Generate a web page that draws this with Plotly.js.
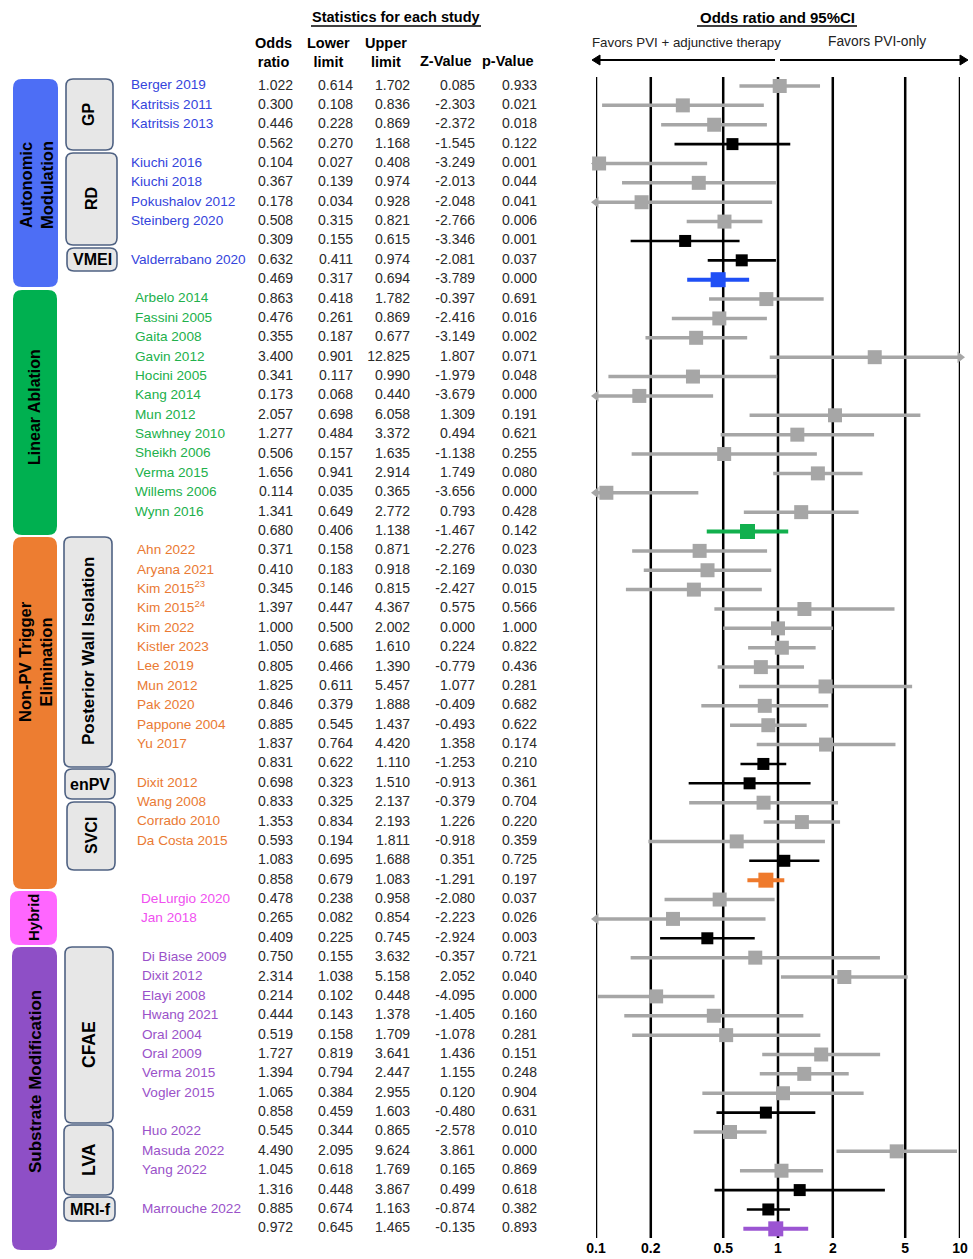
<!DOCTYPE html>
<html><head><meta charset="utf-8">
<script src="https://cdn.plot.ly/plotly-3.0.1.min.js"></script>
<style>html,body{margin:0;padding:0;background:#fff}#chart{width:973px;height:1259px}</style>
</head><body><div id="chart"></div>
<script>
// ---------------- DATA ----------------
const studyNames = ['Berger 2019','Katritsis 2011','Katritsis 2013','','Kiuchi 2016','Kiuchi 2018','Pokushalov 2012','Steinberg 2020','','Valderrabano 2020','',
 'Arbelo 2014','Fassini 2005','Gaita 2008','Gavin 2012','Hocini 2005','Kang 2014','Mun 2012','Sawhney 2010','Sheikh 2006','Verma 2015','Willems 2006','Wynn 2016','',
 'Ahn 2022','Aryana 2021','Kim 2015<sup>23</sup>','Kim 2015<sup>24</sup>','Kim 2022','Kistler 2023','Lee 2019','Mun 2012','Pak 2020','Pappone 2004','Yu 2017','','Dixit 2012','Wang 2008','Corrado 2010','Da Costa 2015','','',
 'DeLurgio 2020','Jan 2018','',
 'Di Biase 2009','Dixit 2012','Elayi 2008','Hwang 2021','Oral 2004','Oral 2009','Verma 2015','Vogler 2015','','Huo 2022','Masuda 2022','Yang 2022','','Marrouche 2022',''];
const oddsRatio = [1.022,0.300,0.446,0.562,0.104,0.367,0.178,0.508,0.309,0.632,0.469,
 0.863,0.476,0.355,3.400,0.341,0.173,2.057,1.277,0.506,1.656,0.114,1.341,0.680,
 0.371,0.410,0.345,1.397,1.000,1.050,0.805,1.825,0.846,0.885,1.837,0.831,0.698,0.833,1.353,0.593,1.083,0.858,
 0.478,0.265,0.409,
 0.750,2.314,0.214,0.444,0.519,1.727,1.394,1.065,0.858,0.545,4.490,1.045,1.316,0.885,0.972];
const lowerLimit = [0.614,0.108,0.228,0.270,0.027,0.139,0.034,0.315,0.155,0.411,0.317,
 0.418,0.261,0.187,0.901,0.117,0.068,0.698,0.484,0.157,0.941,0.035,0.649,0.406,
 0.158,0.183,0.146,0.447,0.500,0.685,0.466,0.611,0.379,0.545,0.764,0.622,0.323,0.325,0.834,0.194,0.695,0.679,
 0.238,0.082,0.225,
 0.155,1.038,0.102,0.143,0.158,0.819,0.794,0.384,0.459,0.344,2.095,0.618,0.448,0.674,0.645];
const upperLimit = [1.702,0.836,0.869,1.168,0.408,0.974,0.928,0.821,0.615,0.974,0.694,
 1.782,0.869,0.677,12.825,0.990,0.440,6.058,3.372,1.635,2.914,0.365,2.772,1.138,
 0.871,0.918,0.815,4.367,2.002,1.610,1.390,5.457,1.888,1.437,4.420,1.110,1.510,2.137,2.193,1.811,1.688,1.083,
 0.958,0.854,0.745,
 3.632,5.158,0.448,1.378,1.709,3.641,2.447,2.955,1.603,0.865,9.624,1.769,3.867,1.163,1.465];
const zValue = [0.085,-2.303,-2.372,-1.545,-3.249,-2.013,-2.048,-2.766,-3.346,-2.081,-3.789,
 -0.397,-2.416,-3.149,1.807,-1.979,-3.679,1.309,0.494,-1.138,1.749,-3.656,0.793,-1.467,
 -2.276,-2.169,-2.427,0.575,0.000,0.224,-0.779,1.077,-0.409,-0.493,1.358,-1.253,-0.913,-0.379,1.226,-0.918,0.351,-1.291,
 -2.080,-2.223,-2.924,
 -0.357,2.052,-4.095,-1.405,-1.078,1.436,1.155,0.120,-0.480,-2.578,3.861,0.165,0.499,-0.874,-0.135];
const pValue = [0.933,0.021,0.018,0.122,0.001,0.044,0.041,0.006,0.001,0.037,0.000,
 0.691,0.016,0.002,0.071,0.048,0.000,0.191,0.621,0.255,0.080,0.000,0.428,0.142,
 0.023,0.030,0.015,0.566,1.000,0.822,0.436,0.281,0.682,0.622,0.174,0.210,0.361,0.704,0.220,0.359,0.725,0.197,
 0.037,0.026,0.003,
 0.721,0.040,0.000,0.160,0.281,0.151,0.248,0.904,0.631,0.010,0.000,0.869,0.618,0.382,0.893];
// s = single study, b = subgroup pooled, o = category pooled
const rowType = ['s','s','s','b','s','s','s','s','b','b','o',
 's','s','s','s','s','s','s','s','s','s','s','s','o',
 's','s','s','s','s','s','s','s','s','s','s','b','b','s','s','s','b','o',
 's','s','b',
 's','s','s','s','s','s','s','s','b','s','s','s','b','b','o'];
const rowGroup = [].concat(Array(11).fill('auto'),Array(13).fill('linear'),Array(18).fill('nonpv'),Array(3).fill('hybrid'),Array(15).fill('substrate'));
const categoryLabels = ['Autonomic<br>Modulation','Linear Ablation','Non-PV Trigger<br>Elimination','Hybrid','Substrate Modification'];
const subgroupLabels = ['GP','RD','VMEI','Posterior Wall Isolation','enPV','SVCI','CFAE','LVA','MRI-f'];
const tickValues = [0.1,0.2,0.5,1,2,5,10];
const tickLabels = ['0.1','0.2','0.5','1','2','5','10'];
const columnHeaders = ['Odds<br>ratio','Lower<br>limit','Upper<br>limit','Z-Value','p-Value'];

// ---------------- STYLE ----------------
const W = 973, H = 1259;
const X = px => px / W, Y = py => 1 - py / H;
const FONT = 'Liberation Sans, Arial, sans-serif';
const groupStyle = {
  auto:      {name:'#3444dc', overall:'#1f4ff5', box:'#4d6ef5', nameX:131},
  linear:    {name:'#21b04b', overall:'#12b04e', box:'#00b050', nameX:135},
  nonpv:     {name:'#ea7a33', overall:'#ef7a2c', box:'#ed7d31', nameX:137},
  hybrid:    {name:'#f050f0', overall:'#000000', box:'#ff66ff', nameX:141},
  substrate: {name:'#9a52c9', overall:'#9b55d2', box:'#8e4fc6', nameX:142}
};
const GRAY = '#a6a6a6';
const plotTop = 77, plotBottom = 1238;
const row0 = 86, rowStep = 19.37;
const yTop = (plotTop - row0) / rowStep, yBot = (plotBottom - row0) / rowStep;

const n = oddsRatio.length;
const idx = [...Array(n).keys()];
const colorOf = i => rowType[i] === 's' ? GRAY : rowType[i] === 'b' ? '#000' : groupStyle[rowGroup[i]].overall;

// CI lines grouped by colour
const traces = [];
const colorSet = [...new Set(idx.map(colorOf))];
colorSet.forEach(c => {
  const xs = [], ys = [];
  idx.filter(i => colorOf(i) === c).forEach(i => { xs.push(lowerLimit[i], upperLimit[i], null); ys.push(i, i, null); });
  const w = c === GRAY ? 3.5 : (c === '#000' ? 2.6 : 4);
  traces.push({type:'scatter', mode:'lines', x:xs, y:ys, line:{color:c, width:w}, hoverinfo:'skip', showlegend:false});
});
// arrows for CIs beyond axis range
const leftA = idx.filter(i => lowerLimit[i] < tickValues[0]);
const rightA = idx.filter(i => upperLimit[i] > tickValues[tickValues.length-1]);
traces.push({type:'scatter', mode:'markers', x:leftA.map(() => tickValues[0]), y:leftA, cliponaxis:false,
  marker:{symbol:'triangle-left', size:10, opacity:1, color:leftA.map(colorOf)}, hoverinfo:'skip', showlegend:false});
traces.push({type:'scatter', mode:'markers', x:rightA.map(() => tickValues[tickValues.length-1]), y:rightA, cliponaxis:false,
  marker:{symbol:'triangle-right', size:10, opacity:1, color:rightA.map(colorOf)}, hoverinfo:'skip', showlegend:false});
// squares
traces.push({type:'scatter', mode:'markers', x:oddsRatio, y:idx, cliponaxis:false,
  marker:{symbol:'square', opacity:1, size:idx.map(i => rowType[i]==='s'?14:(rowType[i]==='b'?12:15)), color:idx.map(colorOf), line:{width:0}},
  hoverinfo:'skip', showlegend:false});

// table text on a pixel-coordinate subplot
const txtFont = {family:FONT, size:14, color:'#2a2a2a'};
const named = idx.filter(i => studyNames[i] !== '');
traces.push({type:'scatter', mode:'text', xaxis:'x2', yaxis:'y2', cliponaxis:false,
  x:named.map(i => groupStyle[rowGroup[i]].nameX), y:named, text:named.map(i => studyNames[i]),
  textposition:'middle right', textfont:{family:FONT, size:13.6, color:named.map(i => groupStyle[rowGroup[i]].name)},
  hoverinfo:'skip', showlegend:false});
const colRight = [293, 353, 410, 475, 537];
[oddsRatio, lowerLimit, upperLimit, zValue, pValue].forEach((arr, k) => {
  traces.push({type:'scatter', mode:'text', xaxis:'x2', yaxis:'y2', cliponaxis:false,
    x:idx.map(() => colRight[k]), y:idx, text:arr.map(v => v.toFixed(3)),
    textposition:'middle left', textfont:txtFont, hoverinfo:'skip', showlegend:false});
});

// ---------------- SHAPES ----------------
function rr(x0, y0, x1, y1, r) {
  const P = (x, y) => `${X(x)},${Y(y)}`;
  return `M${P(x0+r,y0)} L${P(x1-r,y0)} Q${P(x1,y0)} ${P(x1,y0+r)} L${P(x1,y1-r)} Q${P(x1,y1)} ${P(x1-r,y1)} L${P(x0+r,y1)} Q${P(x0,y1)} ${P(x0,y1-r)} L${P(x0,y0+r)} Q${P(x0,y0)} ${P(x0+r,y0)} Z`;
}
const shapes = [];
tickValues.forEach(v => shapes.push({type:'line', xref:'x', yref:'paper', x0:v, x1:v, y0:Y(plotBottom), y1:Y(plotTop), line:{color:'#000', width:2.5}, layer:'below'}));
const catBoxes = [[13,79,58,287],[13,290,57,535],[13,537,57,889],[10,891,57,945],[12,947,57,1250]];
const catKeys = ['auto','linear','nonpv','hybrid','substrate'];
catBoxes.forEach((b, k) => shapes.push({type:'path', xref:'paper', yref:'paper', path:rr(b[0],b[1],b[2],b[3],9), fillcolor:groupStyle[catKeys[k]].box, line:{width:0}}));
const subBoxes = [[66,79,113,150],[66,153,117,245],[67,248,117,271],[64,537,112,767],[65,769,115,799],[67,802,115,870],[65,947,113,1123],[64,1125,113,1195],[64,1197,115,1221]];
subBoxes.forEach(b => shapes.push({type:'path', xref:'paper', yref:'paper', path:rr(b[0],b[1],b[2],b[3],7), fillcolor:'#e7e7e7', line:{color:'#4f6283', width:1.6}}));
// heading underlines
[[311,481],[697,857]].forEach(u => shapes.push({type:'line', xref:'paper', yref:'paper', x0:X(u[0]), x1:X(u[1]), y0:Y(26), y1:Y(26), line:{color:'#000', width:1.3}}));
// direction arrows (shaft + head)
const arrowY = 60;
[[775, 600, 592], [780, 960, 968]].forEach(a => {
  shapes.push({type:'line', xref:'paper', yref:'paper', x0:X(a[0]), x1:X(a[1]), y0:Y(arrowY), y1:Y(arrowY), line:{color:'#000', width:2}});
  const b = a[1], t = a[2];
  shapes.push({type:'path', xref:'paper', yref:'paper', path:`M${X(t)},${Y(arrowY)} L${X(b)},${Y(arrowY-5)} L${X(b)},${Y(arrowY+5)} Z`, fillcolor:'#000', line:{color:'#000', width:1}});
});

// ---------------- ANNOTATIONS ----------------
const ann = [];
const A = (text, x, y, o = {}) => ann.push(Object.assign({text, x:X(x), y:Y(y), xref:'paper', yref:'paper', showarrow:false,
  font:{family:FONT, size:14, color:'#000'}, xanchor:'center', yanchor:'middle'}, o));
A('<b>Statistics for each study</b>', 396, 17, {font:{family:FONT, size:14.5, color:'#000'}});
A('<b>Odds ratio and 95%CI</b>', 777, 17, {font:{family:FONT, size:15, color:'#000'}});
const headX = [273, 328, 386, 446, 508];
columnHeaders.forEach((h, k) => A(`<b>${h}</b>`, headX[k], h.includes('<br>') ? 52 : 61, {font:{family:FONT, size:14.5, color:'#000'}}));
A('Favors PVI + adjunctive therapy', 686, 43, {font:{family:FONT, size:13.3, color:'#222'}});
A('Favors PVI-only', 877, 42, {font:{family:FONT, size:13.8, color:'#222'}});
// category labels
const catPos = [[36,185,16.5],[35,407,16],[35,662,16.5],[33,917,15],[35,1082,17]];
categoryLabels.forEach((t, k) => A(`<b>${t}</b>`, catPos[k][0], catPos[k][1], {textangle:-90, font:{family:FONT, size:catPos[k][2], color:'#000'}}));
const subPos = [[89,115,-90,16],[91,199,-90,16],[92,260,0,16],[88,651,-90,17],[90,784,0,16],[91,836,-90,16],[89,1045,-90,17.5],[89,1160,-90,17.5],[90,1209,0,16]];
subgroupLabels.forEach((t, k) => A(`<b>${t}</b>`, subPos[k][0], subPos[k][1], {textangle:subPos[k][2], font:{family:FONT, size:subPos[k][3], color:'#000'}}));

const layout = {
  width:W, height:H, margin:{l:0, r:0, t:0, b:0},
  paper_bgcolor:'#fff', plot_bgcolor:'rgba(0,0,0,0)', showlegend:false,
  xaxis:{type:'log', domain:[X(596), X(960)], range:[-1, 1], tickvals:tickValues, ticktext:tickLabels,
    showgrid:false, zeroline:false, showline:false, ticks:'', tickfont:{family:FONT, size:14, color:'#000', weight:'bold'}, fixedrange:true},
  yaxis:{domain:[Y(plotBottom), Y(plotTop)], range:[yBot, yTop], visible:false, fixedrange:true},
  xaxis2:{domain:[0, 1], range:[0, W], visible:false, anchor:'y2', fixedrange:true},
  yaxis2:{domain:[Y(plotBottom), Y(plotTop)], range:[yBot, yTop], visible:false, anchor:'x2', fixedrange:true},
  shapes, annotations:ann
};
Plotly.newPlot('chart', traces, layout, {staticPlot:true, displayModeBar:false});
</script></body></html>
